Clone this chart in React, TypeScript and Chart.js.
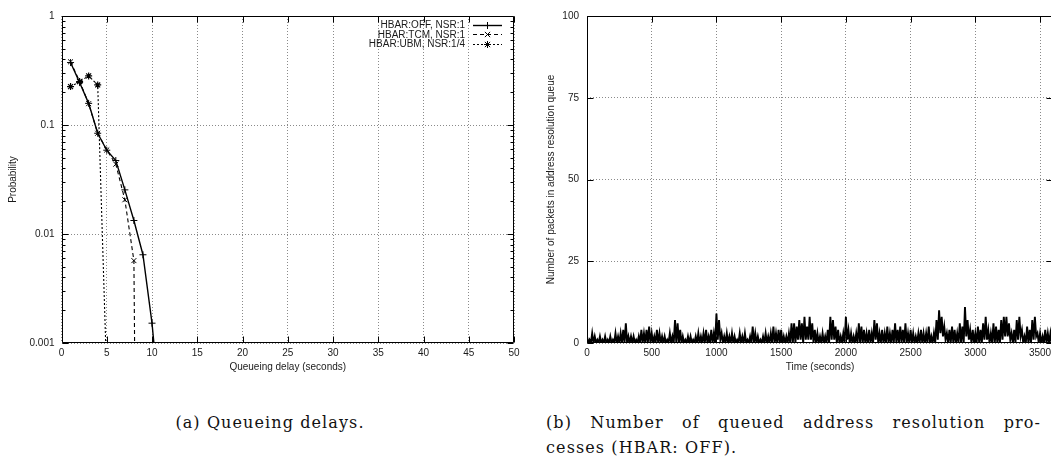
import React, { useEffect, useRef } from "react";
import { Chart, registerables } from "chart.js";

Chart.register(...registerables);

// ---------- (a) Queueing delays ----------
const offDelay = [1, 2, 3, 4, 5, 6, 7, 8, 9, 10, 11];
const offProb = [0.374, 0.245, 0.158, 0.084, 0.0587, 0.0472, 0.0254, 0.0133, 0.00645, 0.00152, 0.0002];
const tcmDelay = [1, 2, 3, 4, 5, 6, 7, 8, 9];
const tcmProb = [0.38, 0.252, 0.157, 0.084, 0.059, 0.0437, 0.0206, 0.0057, 1e-12];
const ubmDelay = [1, 2, 3, 4, 5];
const ubmProb = [0.225, 0.25, 0.282, 0.233, 0.00048];
const delayTicks = [0, 5, 10, 15, 20, 25, 30, 35, 40, 45, 50];
const probTicks = [0.001, 0.01, 0.1, 1];
const probLabels = ["0.001", "0.01", "0.1", "1"];
const legendLabels = ["HBAR:OFF, NSR:1", "HBAR:TCM, NSR:1", "HBAR:UBM, NSR:1/4"];

// ---------- (b) Queued address resolution processes ----------
// per 20 s window: highest and lowest queue length
const binSeconds = 20;
const queueMax = [
  2, 1, 3, 2, 1, 2, 1, 2, 1, 2, 1, 3, 2, 3, 4, 6, 2, 2, 2, 1,
  2, 4, 3, 4, 5, 3, 2, 4, 3, 2, 2, 1, 3, 2, 7, 6, 4, 2, 1, 2,
  2, 1, 2, 3, 2, 3, 4, 2, 4, 3, 9, 7, 3, 2, 3, 2, 3, 2, 1, 3,
  2, 3, 1, 2, 5, 3, 2, 1, 2, 3, 2, 3, 5, 3, 4, 4, 2, 2, 3, 6,
  6, 5, 7, 6, 8, 5, 8, 6, 4, 3, 2, 3, 2, 4, 8, 7, 5, 4, 2, 3,
  8, 4, 3, 2, 3, 6, 5, 4, 3, 4, 3, 7, 6, 3, 4, 3, 5, 3, 4, 6,
  4, 5, 4, 6, 3, 4, 3, 2, 3, 4, 3, 3, 5, 2, 3, 7, 10, 8, 5, 3,
  4, 5, 4, 3, 6, 5, 11, 7, 4, 4, 3, 5, 4, 6, 8, 4, 3, 6, 5, 4,
  7, 8, 8, 6, 3, 4, 7, 8, 4, 2, 5, 4, 7, 8, 3, 3, 2, 4, 3, 3,
];
const queueMin = [
  0, 0, 0, 0, 0, 0, 0, 0, 0, 0, 0, 0, 0, 0, 0, 0, 0, 0, 0, 0,
  0, 0, 0, 0, 0, 0, 0, 0, 0, 0, 0, 0, 0, 0, 0, 0, 0, 0, 0, 0,
  0, 0, 0, 0, 0, 0, 0, 0, 0, 0, 1, 1, 0, 0, 0, 0, 0, 0, 0, 0,
  0, 0, 0, 0, 0, 0, 0, 0, 0, 0, 0, 0, 0, 0, 0, 0, 0, 0, 0, 0,
  0, 1, 1, 0, 1, 1, 1, 0, 0, 0, 0, 0, 0, 0, 1, 1, 0, 0, 0, 0,
  1, 0, 0, 0, 0, 0, 0, 0, 0, 0, 0, 1, 0, 0, 0, 0, 0, 0, 0, 0,
  0, 0, 0, 0, 0, 0, 0, 0, 0, 0, 0, 0, 0, 0, 0, 1, 3, 2, 1, 0,
  0, 0, 0, 0, 0, 0, 2, 1, 0, 0, 0, 0, 0, 1, 1, 0, 0, 0, 0, 0,
  1, 2, 2, 1, 0, 0, 1, 2, 0, 0, 0, 0, 1, 2, 0, 0, 0, 0, 0, 0,
];
const timeTicks = [0, 500, 1000, 1500, 2000, 2500, 3000, 3500];
const countTicks = [0, 25, 50, 75, 100];

const FONT = "'Liberation Sans', Arial, Helvetica, sans-serif";
const TXT = "#1a1a1a";

type TickOpts = {
  xMajor: number[];
  yMajor: number[];
  yMinor: number[];
  major: number;
  minor: number;
};

// gnuplot-style frame with inward tick marks on all four sides
const framePlugin = {
  id: "gpFrame",
  afterDraw(chart: any, _args: any, opts: TickOpts) {
    const { ctx, chartArea: a, scales } = chart;
    const xs = scales.x;
    const ys = scales.y;
    ctx.save();
    ctx.strokeStyle = "#000";
    ctx.lineWidth = 1;
    ctx.setLineDash([]);
    ctx.beginPath();
    const L = Math.round(a.left) + 0.5;
    const R = Math.round(a.right) - 0.5;
    const T = Math.round(a.top) + 0.5;
    const B = Math.round(a.bottom) - 0.5;
    ctx.rect(L, T, R - L, B - T);
    for (const v of opts.xMajor || []) {
      const p = Math.round(xs.getPixelForValue(v)) + 0.5;
      ctx.moveTo(p, B);
      ctx.lineTo(p, B - opts.major);
      ctx.moveTo(p, T);
      ctx.lineTo(p, T + opts.major);
    }
    const yt = (v: number, len: number) => {
      const p = Math.round(ys.getPixelForValue(v)) + 0.5;
      ctx.moveTo(L, p);
      ctx.lineTo(L + len, p);
      ctx.moveTo(R, p);
      ctx.lineTo(R - len, p);
    };
    for (const v of opts.yMajor || []) yt(v, opts.major);
    for (const v of opts.yMinor || []) yt(v, opts.minor);
    ctx.stroke();
    ctx.restore();
  },
};

// gnuplot-style key in the top right corner of the plot
const keyPlugin = {
  id: "gpKey",
  afterDraw(chart: any, _args: any, opts: any) {
    if (!opts || !opts.enabled) return;
    const { ctx } = chart;
    ctx.save();
    ctx.font = `10px ${FONT}`;
    ctx.fillStyle = TXT;
    ctx.textAlign = "right";
    ctx.textBaseline = "middle";
    chart.data.datasets.forEach((ds: any, i: number) => {
      const y = opts.top + i * opts.gap;
      ctx.fillText(ds.label, opts.textRight, y + 0.5);
      ctx.strokeStyle = "#000";
      ctx.lineWidth = ds.borderWidth;
      ctx.setLineDash(ds.borderDash || []);
      ctx.beginPath();
      ctx.moveTo(opts.lineLeft, Math.round(y) + 0.5);
      ctx.lineTo(opts.lineRight, Math.round(y) + 0.5);
      ctx.stroke();
      ctx.setLineDash([]);
      ctx.lineWidth = 1;
      const cx = (opts.lineLeft + opts.lineRight) / 2;
      const cy = Math.round(y) + 0.5;
      const r = ds.pointRadius;
      ctx.beginPath();
      const style = ds.pointStyle;
      if (style === "cross" || style === "star") {
        ctx.moveTo(cx - r, cy);
        ctx.lineTo(cx + r, cy);
        ctx.moveTo(cx, cy - r);
        ctx.lineTo(cx, cy + r);
      }
      if (style === "crossRot" || style === "star") {
        const d = r * 0.75;
        ctx.moveTo(cx - d, cy - d);
        ctx.lineTo(cx + d, cy + d);
        ctx.moveTo(cx - d, cy + d);
        ctx.lineTo(cx + d, cy - d);
      }
      ctx.stroke();
    });
    ctx.restore();
  },
};

const tickFont = { family: FONT, size: 10 };

function DelayChart() {
  const ref = useRef<HTMLCanvasElement | null>(null);
  useEffect(() => {
    if (!ref.current) return;
    const minor: number[] = [];
    [0.001, 0.01, 0.1].forEach((d) => {
      for (let k = 2; k <= 9; k++) minor.push(d * k);
    });
    const pts = (xs: number[], ys: number[]) => xs.map((x, i) => ({ x, y: ys[i] }));
    const chart = new Chart(ref.current, {
      type: "line",
      data: {
        datasets: [
          {
            label: legendLabels[0],
            data: pts(offDelay, offProb),
            borderColor: "#000",
            backgroundColor: "#000",
            borderWidth: 1.4,
            pointStyle: "cross",
            pointRadius: 3.5,
            pointBorderWidth: 1,
            pointBorderColor: "#000",
          },
          {
            label: legendLabels[1],
            data: pts(tcmDelay, tcmProb),
            borderColor: "#000",
            backgroundColor: "#000",
            borderWidth: 1.1,
            borderDash: [4, 3],
            pointStyle: "crossRot",
            pointRadius: 3.5,
            pointBorderWidth: 1,
            pointBorderColor: "#000",
          },
          {
            label: legendLabels[2],
            data: pts(ubmDelay, ubmProb),
            borderColor: "#000",
            backgroundColor: "#000",
            borderWidth: 1.1,
            borderDash: [2, 2],
            pointStyle: "star",
            pointRadius: 3.5,
            pointBorderWidth: 1.2,
            pointBorderColor: "#000",
          },
        ] as any,
      },
      options: {
        animation: false,
        responsive: false,
        events: [],
        layout: { padding: { left: 0, top: 16, right: 11, bottom: 0 } },
        plugins: {
          legend: { display: false },
          tooltip: { enabled: false },
          gpFrame: { xMajor: delayTicks, yMajor: probTicks, yMinor: minor, major: 6, minor: 3 },
          gpKey: { enabled: true, top: 24.5, gap: 9.8, textRight: 465, lineLeft: 473, lineRight: 502 },
        } as any,
        scales: {
          x: {
            type: "linear",
            min: 0,
            max: 50,
            afterBuildTicks: (s: any) => {
              s.ticks = delayTicks.map((v) => ({ value: v }));
            },
            afterFit: (s: any) => {
              s.height = 37;
            },
            grid: { color: "#8a8a8a", lineWidth: 1, drawTicks: false },
            border: { display: false, dash: [1, 2] },
            ticks: { font: tickFont, color: TXT, padding: 4, maxRotation: 0, callback: (v: any) => String(v) },
            title: {
              display: true,
              text: "Queueing delay (seconds)",
              font: tickFont,
              color: TXT,
              padding: { top: 0, bottom: 7 },
            },
          },
          y: {
            type: "logarithmic",
            min: 0.001,
            max: 1,
            afterBuildTicks: (s: any) => {
              s.ticks = probTicks.map((v) => ({ value: v }));
            },
            afterFit: (s: any) => {
              s.width = 61.5;
            },
            grid: { color: "#8a8a8a", lineWidth: 1, drawTicks: false },
            border: { display: false, dash: [1, 2] },
            ticks: {
              font: tickFont,
              color: TXT,
              padding: 7,
              callback: (v: any) => {
                const i = probTicks.findIndex((p) => Math.abs(p - Number(v)) / p < 1e-6);
                return i >= 0 ? probLabels[i] : "";
              },
            },
            title: {
              display: true,
              text: "Probability",
              font: tickFont,
              color: TXT,
              padding: { top: 7.5, bottom: 0 },
            },
          },
        },
      } as any,
      plugins: [framePlugin, keyPlugin],
    });
    return () => chart.destroy();
  }, []);
  return (
    <canvas
      ref={ref}
      width={525}
      height={380}
      style={{ position: "absolute", left: 0, top: 0, width: 525, height: 380 }}
    />
  );
}

function QueueChart() {
  const ref = useRef<HTMLCanvasElement | null>(null);
  useEffect(() => {
    if (!ref.current) return;
    // trace: within each window the queue swings from its maximum down to its minimum
    const trace: { x: number; y: number }[] = [];
    queueMax.forEach((v, i) => {
      trace.push({ x: i * binSeconds, y: v });
      trace.push({ x: i * binSeconds + binSeconds / 2, y: queueMin[i] });
    });
    const chart = new Chart(ref.current, {
      type: "line",
      data: {
        datasets: [
          {
            label: "queue",
            data: trace,
            borderColor: "#000",
            borderWidth: 1.9,
            pointRadius: 0,
            tension: 0,
            fill: false,
          },
        ],
      },
      options: {
        animation: false,
        responsive: false,
        events: [],
        layout: { padding: { left: 0, top: 16, right: 12, bottom: 0 } },
        plugins: {
          legend: { display: false },
          tooltip: { enabled: false },
          gpFrame: { xMajor: timeTicks, yMajor: countTicks, yMinor: [], major: 6, minor: 3 },
          gpKey: { enabled: false },
        } as any,
        scales: {
          x: {
            type: "linear",
            min: 0,
            max: 3600,
            afterBuildTicks: (s: any) => {
              s.ticks = timeTicks.map((v) => ({ value: v }));
            },
            afterFit: (s: any) => {
              s.height = 37;
            },
            grid: { color: "#8a8a8a", lineWidth: 1, drawTicks: false },
            border: { display: false, dash: [1, 2] },
            ticks: { font: tickFont, color: TXT, padding: 4, maxRotation: 0, callback: (v: any) => String(v) },
            title: {
              display: true,
              text: "Time (seconds)",
              font: tickFont,
              color: TXT,
              padding: { top: 0, bottom: 7 },
            },
          },
          y: {
            type: "linear",
            min: 0,
            max: 100,
            afterBuildTicks: (s: any) => {
              s.ticks = countTicks.map((v) => ({ value: v }));
            },
            afterFit: (s: any) => {
              s.width = 62;
            },
            grid: { color: "#8a8a8a", lineWidth: 1, drawTicks: false },
            border: { display: false, dash: [1, 2] },
            ticks: { font: tickFont, color: TXT, padding: 8, callback: (v: any) => String(v) },
            title: {
              display: true,
              text: "Number of packets in address resolution queue",
              font: tickFont,
              color: TXT,
              padding: { top: 20.5, bottom: 0 },
            },
          },
        },
      } as any,
      plugins: [framePlugin, keyPlugin],
    });
    return () => chart.destroy();
  }, []);
  return (
    <canvas
      ref={ref}
      width={540}
      height={380}
      style={{ position: "absolute", left: 525, top: 0, width: 540, height: 380 }}
    />
  );
}

const captionStyle: React.CSSProperties = {
  position: "absolute",
  fontFamily: "'DejaVu Serif', 'Liberation Serif', serif",
  fontSize: 16,
  letterSpacing: "1.1px",
  lineHeight: "25px",
  color: "#111",
  whiteSpace: "nowrap",
};

export default function App() {
  return (
    <div
      style={{
        position: "absolute",
        left: 0,
        top: 0,
        width: 1051,
        height: 463,
        overflow: "hidden",
        background: "#fff",
      }}
    >
      <DelayChart />
      <QueueChart />
      <div style={{ ...captionStyle, left: 0, width: 540, top: 409.5, textAlign: "center" }}>
        (a) Queueing delays.
      </div>
      <div style={{ ...captionStyle, left: 546, width: 495, top: 409.5 }}>
        <div style={{ textAlign: "justify", textAlignLast: "justify" } as React.CSSProperties}>
          (b) Number of queued address resolution pro-
        </div>
        <div>cesses (HBAR: OFF).</div>
      </div>
    </div>
  );
}
